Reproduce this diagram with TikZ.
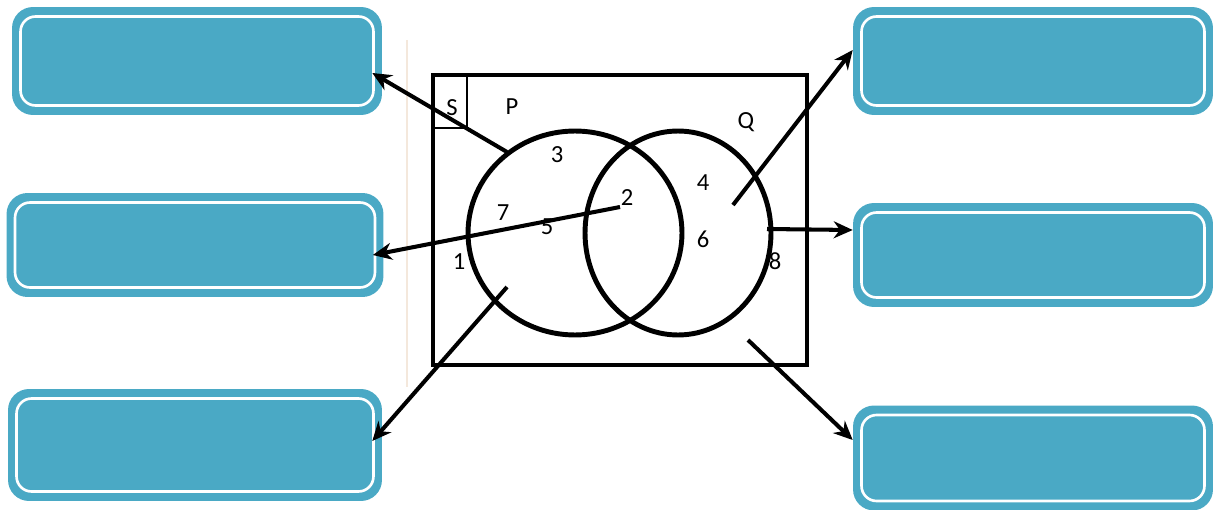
\documentclass[tikz,border=0pt]{standalone}
\usepackage{fontspec}
\setmainfont{Carlito}
\usetikzlibrary{arrows.meta}
\definecolor{boxblue}{HTML}{4AA9C5}
\definecolor{rulebeige}{HTML}{F4E8DC}

\begin{document}
\begin{tikzpicture}[x=0.02cm,y=-0.02cm,
    answer/.style={fill=boxblue, rounded corners=0.42cm, inner sep=0pt,
        minimum width=7.3cm, minimum height=2.12cm,
        path picture={\draw[white,line width=1.5pt,rounded corners=0.3cm]
            ([xshift=0.17cm,yshift=-0.19cm]path picture bounding box.north west) rectangle
            ([xshift=-0.17cm,yshift=0.19cm]path picture bounding box.south east);}},
    pointer/.style={line width=2.3pt, -{Stealth[length=0.38cm,width=0.34cm]}},
    num/.style={font=\fontsize{14}{16}\selectfont, inner sep=0pt}]
    \useasboundingbox (0,0) rectangle (1213,510);
    \draw[rulebeige, line width=0.6pt] (407,40) -- (407,387);
    % answer boxes
    \node[answer, minimum width=7.4cm, minimum height=2.16cm] (tlbox) at (197,61) {};
    \node[answer, minimum width=7.54cm, minimum height=2.08cm] (mlbox) at (195,245) {};
    \node[answer, minimum width=7.48cm, minimum height=2.24cm] (blbox) at (195,445) {};
    \node[answer, minimum width=7.2cm, minimum height=2.16cm] (trbox) at (1033,61) {};
    \node[answer, minimum width=7.2cm, minimum height=2.08cm] (mrbox) at (1033,255) {};
    \node[answer, minimum width=7.2cm, minimum height=2.1cm] (brbox) at (1033,458) {};
    % universal set and the two sets
    \draw[line width=2.8pt] (433,75) rectangle (807,365);
    \draw[line width=0.7pt] (433,128) -- (467,128) -- (467,75);
    \draw[line width=2.8pt] (575,233) ellipse [x radius=2.14cm, y radius=2.04cm];
    \draw[line width=2.8pt] (678,233) ellipse [x radius=1.86cm, y radius=2.04cm];
    \node[num] (S) at (452,108) {S};
    \node[num] (P) at (512,107) {P};
    \node[num] (Q) at (746,122) {Q};
    \node[num] (n3) at (557,155) {3};
    \node[num] (n4) at (703,183) {4};
    \node[num] (n2) at (627,198) {2};
    \node[num] (n7) at (503,213) {7};
    \node[num] (n5) at (547,227) {5};
    \node[num] (n6) at (703,239) {6};
    \node[num] (n1) at (459,262) {1};
    \node[num] (n8) at (775,261) {8};
    % arrow tails
    \coordinate (tlfrom) at (507,152);
    \coordinate (mlfrom) at (620,207);
    \coordinate (blfrom) at (507,287);
    \coordinate (trfrom) at (733,205);
    \coordinate (mrfrom) at (767,229);
    \coordinate (brfrom) at (748,340);
    \draw[pointer] (tlfrom) -- ([xshift=-0.2cm,yshift=-0.24cm]tlbox.east);
    \draw[pointer] (mlfrom) -- ([xshift=-0.22cm,yshift=-0.2cm]mlbox.east);
    \draw[pointer] (blfrom) -- ([xshift=-0.2cm,yshift=0.08cm]blbox.east);
    \draw[pointer] (trfrom) -- ([yshift=0.22cm]trbox.west);
    \draw[pointer] (mrfrom) -- ([yshift=0.5cm]mrbox.west);
    \draw[pointer] (brfrom) -- ([yshift=0.36cm]brbox.west);
\end{tikzpicture}
\end{document}
